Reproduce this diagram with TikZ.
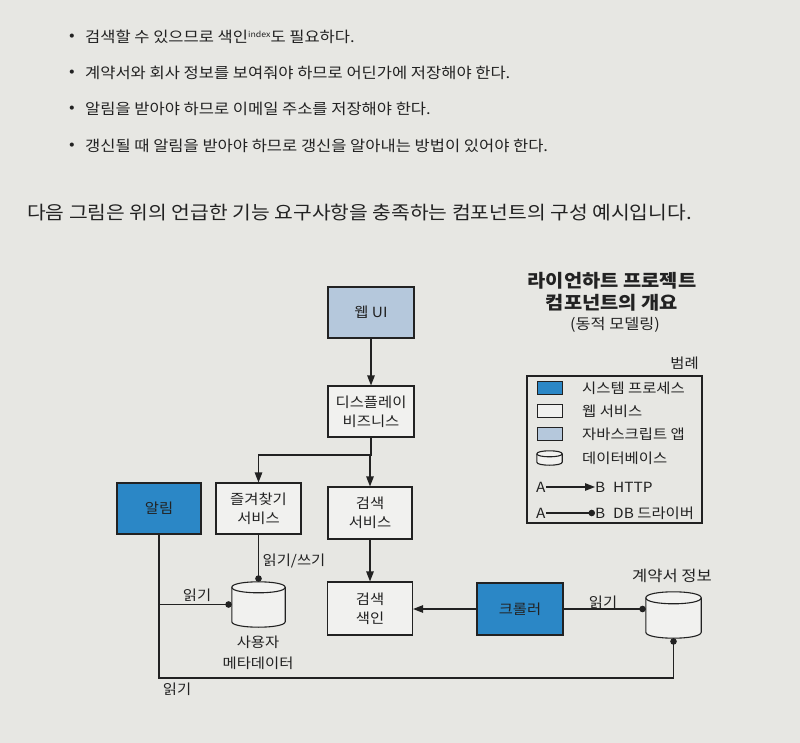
\documentclass[tikz,border=0pt]{standalone}
\usepackage{fontspec}
\setmainfont{Noto Sans CJK KR}[FakeStretch=1.1]
\usetikzlibrary{arrows.meta}
\definecolor{paper}{HTML}{E7E7E3}
\definecolor{ink}{HTML}{222222}
\definecolor{procblue}{HTML}{2B87C6}
\definecolor{jsblue}{HTML}{B5C8DC}
\definecolor{boxwhite}{HTML}{F1F1EF}
% cylinder drawn on the rectangle of a named node: #1 node, #2 half height of the ellipse
\newcommand\dbcyl[2]{%
  \draw[cylline] ([yshift=-#2pt]#1.north west)
    -- ([yshift=#2pt]#1.south west)
    .. controls ([yshift={-0.333*#2pt}]#1.south west) and ([yshift={-0.333*#2pt}]#1.south east) .. ([yshift=#2pt]#1.south east)
    -- ([yshift=-#2pt]#1.north east)
    .. controls ([yshift={0.333*#2pt}]#1.north east) and ([yshift={0.333*#2pt}]#1.north west) .. ([yshift=-#2pt]#1.north west) -- cycle;
  \draw[cylline, fill=none] ([yshift=-#2pt]#1.north west)
    .. controls ([yshift={-2.333*#2pt}]#1.north west) and ([yshift={-2.333*#2pt}]#1.north east) .. ([yshift=-#2pt]#1.north east);
}
\begin{document}
\begin{tikzpicture}[x=1pt,y=-1pt,
  every node/.style={text=ink},
  txt/.style={font=\fontsize{15}{18}\selectfont, anchor=west, inner sep=0pt},
  box/.style={draw=ink, line width=1.1pt, align=center, inner sep=0pt,
    font=\fontsize{14}{19}\selectfont, minimum width=85pt, minimum height=51pt},
  proc/.style={box, fill=procblue},
  websvc/.style={box, fill=boxwhite},
  jsapp/.style={box, fill=jsblue},
  cylbox/.style={inner sep=0pt},
  cylline/.style={draw=ink, line width=1.1pt, fill=boxwhite},
  http/.style={draw=ink, line width=1.1pt, -{Triangle[length=10pt,width=7.5pt]}},
  dbl/.style={draw=ink, line width=1.1pt, -{Circle[length=6.5pt]}},
  lbl/.style={font=\fontsize{14}{21}\selectfont, inner sep=0pt},
  leg/.style={font=\fontsize{14}{16}\selectfont, anchor=west, inner sep=0pt},
  sw/.style={draw=ink, line width=1pt, minimum width=25pt, minimum height=13pt, inner sep=0pt}
]
\fill[paper] (0,0) rectangle (800,743);
\useasboundingbox (0,0) rectangle (800,743);

% bullets
\node[txt, anchor=center] (d1) at (72,37) {•};
\node[txt] (b1) at (85,37) {검색할 수 있으므로 색인\raisebox{5pt}{\fontsize{8}{8}\selectfont index}도 필요하다.};
\node[txt, anchor=center] (d2) at (72,73) {•};
\node[txt] (b2) at (85,73) {계약서와 회사 정보를 보여줘야 하므로 어딘가에 저장해야 한다.};
\node[txt, anchor=center] (d3) at (72,109) {•};
\node[txt] (b3) at (85,109) {알림을 받아야 하므로 이메일 주소를 저장해야 한다.};
\node[txt, anchor=center] (d4) at (72,146) {•};
\node[txt] (b4) at (85,146) {갱신될 때 알림을 받아야 하므로 갱신을 알아내는 방법이 있어야 한다.};
\node[txt, font=\fontsize{18.5}{22}\selectfont] (para) at (27,213) {다음 그림은 위의 언급한 기능 요구사항을 충족하는 컴포넌트의 구성 예시입니다.};

% title
\node[font=\fontsize{18}{22}\selectfont\bfseries, align=center, inner sep=0pt] (title) at (612,292) {라이언하트 프로젝트\\컴포넌트의 개요};
\node[font=\fontsize{14.8}{16}\selectfont, inner sep=0pt] (sub) at (615,325) {(동적 모델링)};

% legend
\node[font=\fontsize{14}{16}\selectfont, anchor=east, inner sep=0pt] (legt) at (699,363) {범례};
\node[draw=ink, line width=1.1pt, minimum width=175pt, minimum height=147pt, inner sep=0pt] (legbox) at (614.5,449.5) {};
\node[sw, fill=procblue] (s1) at (549.5,388) {};
\node[leg] (l1) at (582,388) {시스템 프로세스};
\node[sw, fill=boxwhite] (s2) at (549.5,411) {};
\node[leg] (l2) at (582,411) {웹 서비스};
\node[sw, fill=jsblue] (s3) at (549.5,434) {};
\node[leg] (l3) at (582,434) {자바스크립트 앱};
\node[cylbox, minimum width=25pt, minimum height=14pt] (s4) at (549.5,458) {};
\dbcyl{s4}{3}
\node[leg] (l4) at (582,458) {데이터베이스};
\node[leg] (la1) at (536,487) {A};
\node[leg] (lb1) at (595,487) {B};
\node[leg] (lt1) at (613,487) {HTTP};
\draw[http] (la1.east) -- (lb1.west);
\node[leg] (la2) at (536,513) {A};
\node[leg] (lb2) at (595,513) {B};
\node[leg] (lt2) at (613,513) {DB 드라이버};
\draw[dbl] (la2.east) -- (lb2.west);

% components
\node[jsapp, minimum width=86pt] (webui) at (371,312.5) {웹 UI};
\node[websvc, minimum width=86pt] (disp) at (371,411.5) {디스플레이\\비즈니스};
\node[proc, minimum width=84pt] (alarm) at (159,508.5) {알림};
\node[websvc] (fav) at (258.5,508.5) {즐겨찾기\\서비스};
\node[websvc, minimum width=84pt, minimum height=52pt] (search) at (370,513) {검색\\서비스};
\node[websvc, minimum height=53pt] (index) at (370,608.5) {검색\\색인};
\node[proc, minimum width=86pt, minimum height=52pt] (crawler) at (520,609) {크롤러};
\node[cylbox, minimum width=53pt, minimum height=45pt] (umeta) at (258.5,604.5) {};
\dbcyl{umeta}{5.5}
\node[lbl, align=center] (umetal) at (258,652.5) {사용자\\메타데이터};
\node[cylbox, minimum width=55pt, minimum height=46pt] (contract) at (673.5,615) {};
\dbcyl{contract}{6}
\node[lbl, font=\fontsize{15}{17}\selectfont] (contractl) at (672,576) {계약서 정보};

% connectors
\draw[http] (webui) -- (disp);
\coordinate (split) at (371,455);
\draw[http] (disp.south) -- (split) -| (fav.north);
\draw[http] (split) -- (split -| search.north) -- (search.north);
\draw[http] (search) -- (index);
\draw[http] (crawler.west) -- (crawler.west -| index.east);
\draw[dbl] (fav.south) -- (umeta.north);
\node[lbl] (rw) at (294,561) {읽기/쓰기};
\coordinate (bend) at (159,678);
\draw[dbl] (alarm.south) -- (bend) -| (contract.south);
\draw[dbl] (alarm.south |- umeta.west) -- (umeta.west);
\node[lbl] (r1) at (197,595) {읽기};
\draw[dbl] (crawler.east) -- (crawler.east -| contract.west);
\node[lbl] (r2) at (603,602) {읽기};
\node[lbl] (r3) at (177,689) {읽기};
\end{tikzpicture}
\end{document}
